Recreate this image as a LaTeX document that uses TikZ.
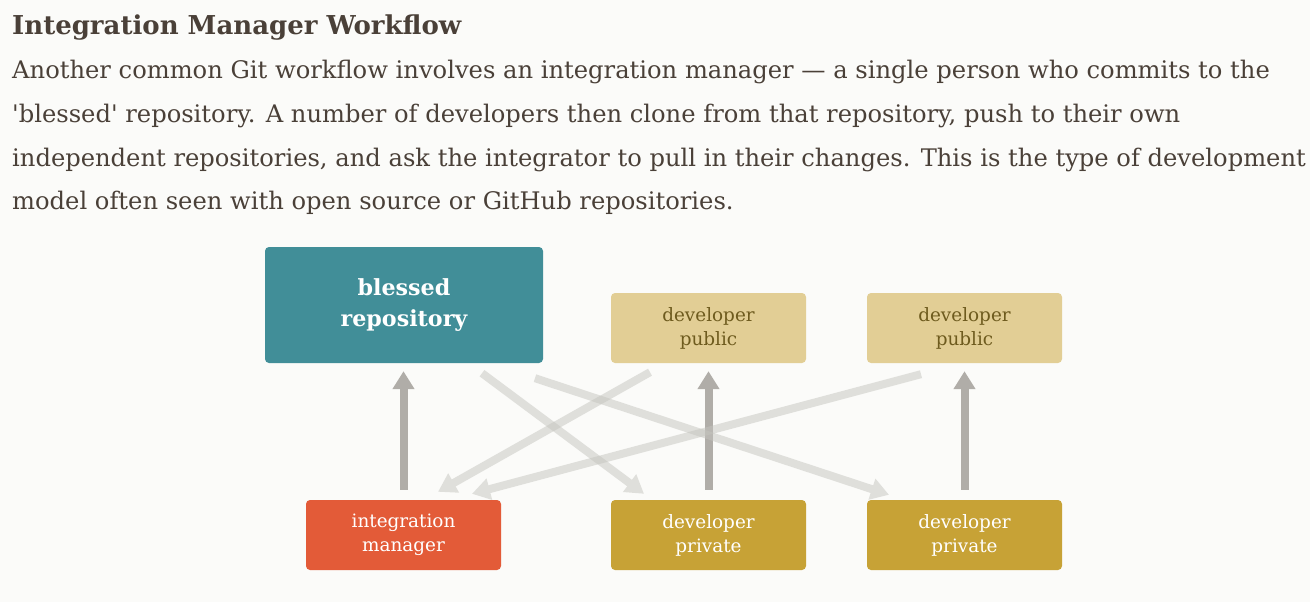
\documentclass[tikz,border=0pt]{standalone}
\usepackage{fontspec}
\setmainfont{DejaVu Serif}
\usetikzlibrary{arrows.meta}
\definecolor{bg}{HTML}{FBFBF9}
\definecolor{txt}{HTML}{4A4038}
\definecolor{blessedc}{HTML}{418E98}
\definecolor{pubc}{HTML}{E2CE95}
\definecolor{pubtxt}{HTML}{6E5B1E}
\definecolor{privc}{HTML}{C7A236}
\definecolor{mgrc}{HTML}{E35B38}
\definecolor{darkarr}{HTML}{B0ADA8}
\definecolor{lightarr}{HTML}{C4C4BE}
\tikzset{
  para/.style={anchor=base west, inner sep=0pt, text=txt, font=\fontsize{24.2}{24}\selectfont},
  titletext/.style={anchor=base west, inner sep=0pt, text=txt, font=\bfseries\fontsize{26}{26}\selectfont},
  box/.style={rectangle, rounded corners=4pt, inner sep=0pt, align=center},
  bigbox/.style={box, fill=blessedc, text=white, minimum width=278pt, minimum height=116pt, font=\bfseries\fontsize{22.2}{31}\selectfont},
  smallbox/.style={box, minimum width=195pt, minimum height=70pt, font=\fontsize{18.4}{24}\selectfont},
  pubbox/.style={smallbox, fill=pubc, text=pubtxt},
  privbox/.style={smallbox, fill=privc, text=white},
  mgrbox/.style={smallbox, fill=mgrc, text=white},
  uparrow/.style={draw=darkarr, line width=8pt, -{Triangle[length=18pt,width=21pt]}},
  crossarrow/.style={draw=lightarr, line width=8pt, -{Triangle[length=18pt,width=21pt]}},
  crossgroup/.style={transparency group, opacity=0.5}
}
\begin{document}
\begin{tikzpicture}[x=1pt,y=-1pt]
\fill[bg] (0,0) rectangle (1310,602);
\useasboundingbox (0,0) rectangle (1310,602);
\node[titletext] (title) at (12,35) {Integration Manager Workflow};
\node[para] (l1) at (12,79) {Another common Git workflow involves an integration manager — a single person who commits to the};
\node[para] (l2) at (12,122.5) {\textquotesingle blessed\textquotesingle{} repository. A number of developers then clone from that repository, push to their own};
\node[para] (l3) at (12,166) {independent repositories, and ask the integrator to pull in their changes. This is the type of development};
\node[para] (l4) at (12,209) {model often seen with open source or GitHub repositories.};

\node[bigbox] (blessed) at (404,305) {blessed\\repository};
\node[pubbox] (pub1) at (708.5,328) {developer\\public};
\node[pubbox] (pub2) at (964.5,328) {developer\\public};
\node[mgrbox] (mgr) at (403.5,535) {integration\\manager};
\node[privbox] (priv1) at (708.5,535) {developer\\private};
\node[privbox] (priv2) at (964.5,535) {developer\\private};

\draw[uparrow] ([yshift=10pt]mgr.north) -- ([yshift=-8pt]mgr.north |- blessed.south);
\draw[uparrow] ([yshift=10pt]priv1.north) -- ([yshift=-8pt]pub1.south);
\draw[uparrow] ([yshift=10pt]priv2.north) -- ([yshift=-8pt]pub2.south);

\begin{scope}[crossgroup]
\draw[crossarrow] ([xshift=78pt,yshift=-10pt]blessed.south) -- ([xshift=-64.5pt,yshift=6pt]priv1.north);
\end{scope}
\begin{scope}[crossgroup]
\draw[crossarrow] ([xshift=131pt,yshift=-15pt]blessed.south) -- ([xshift=-75.5pt,yshift=5pt]priv2.north);
\end{scope}
\begin{scope}[crossgroup]
\draw[crossarrow] ([xshift=-58.5pt,yshift=-9pt]pub1.south) -- ([xshift=34.5pt,yshift=8pt]mgr.north);
\end{scope}
\begin{scope}[crossgroup]
\draw[crossarrow] ([xshift=-43.5pt,yshift=-11pt]pub2.south) -- ([xshift=68.5pt,yshift=6pt]mgr.north);
\end{scope}
\end{tikzpicture}
\end{document}
